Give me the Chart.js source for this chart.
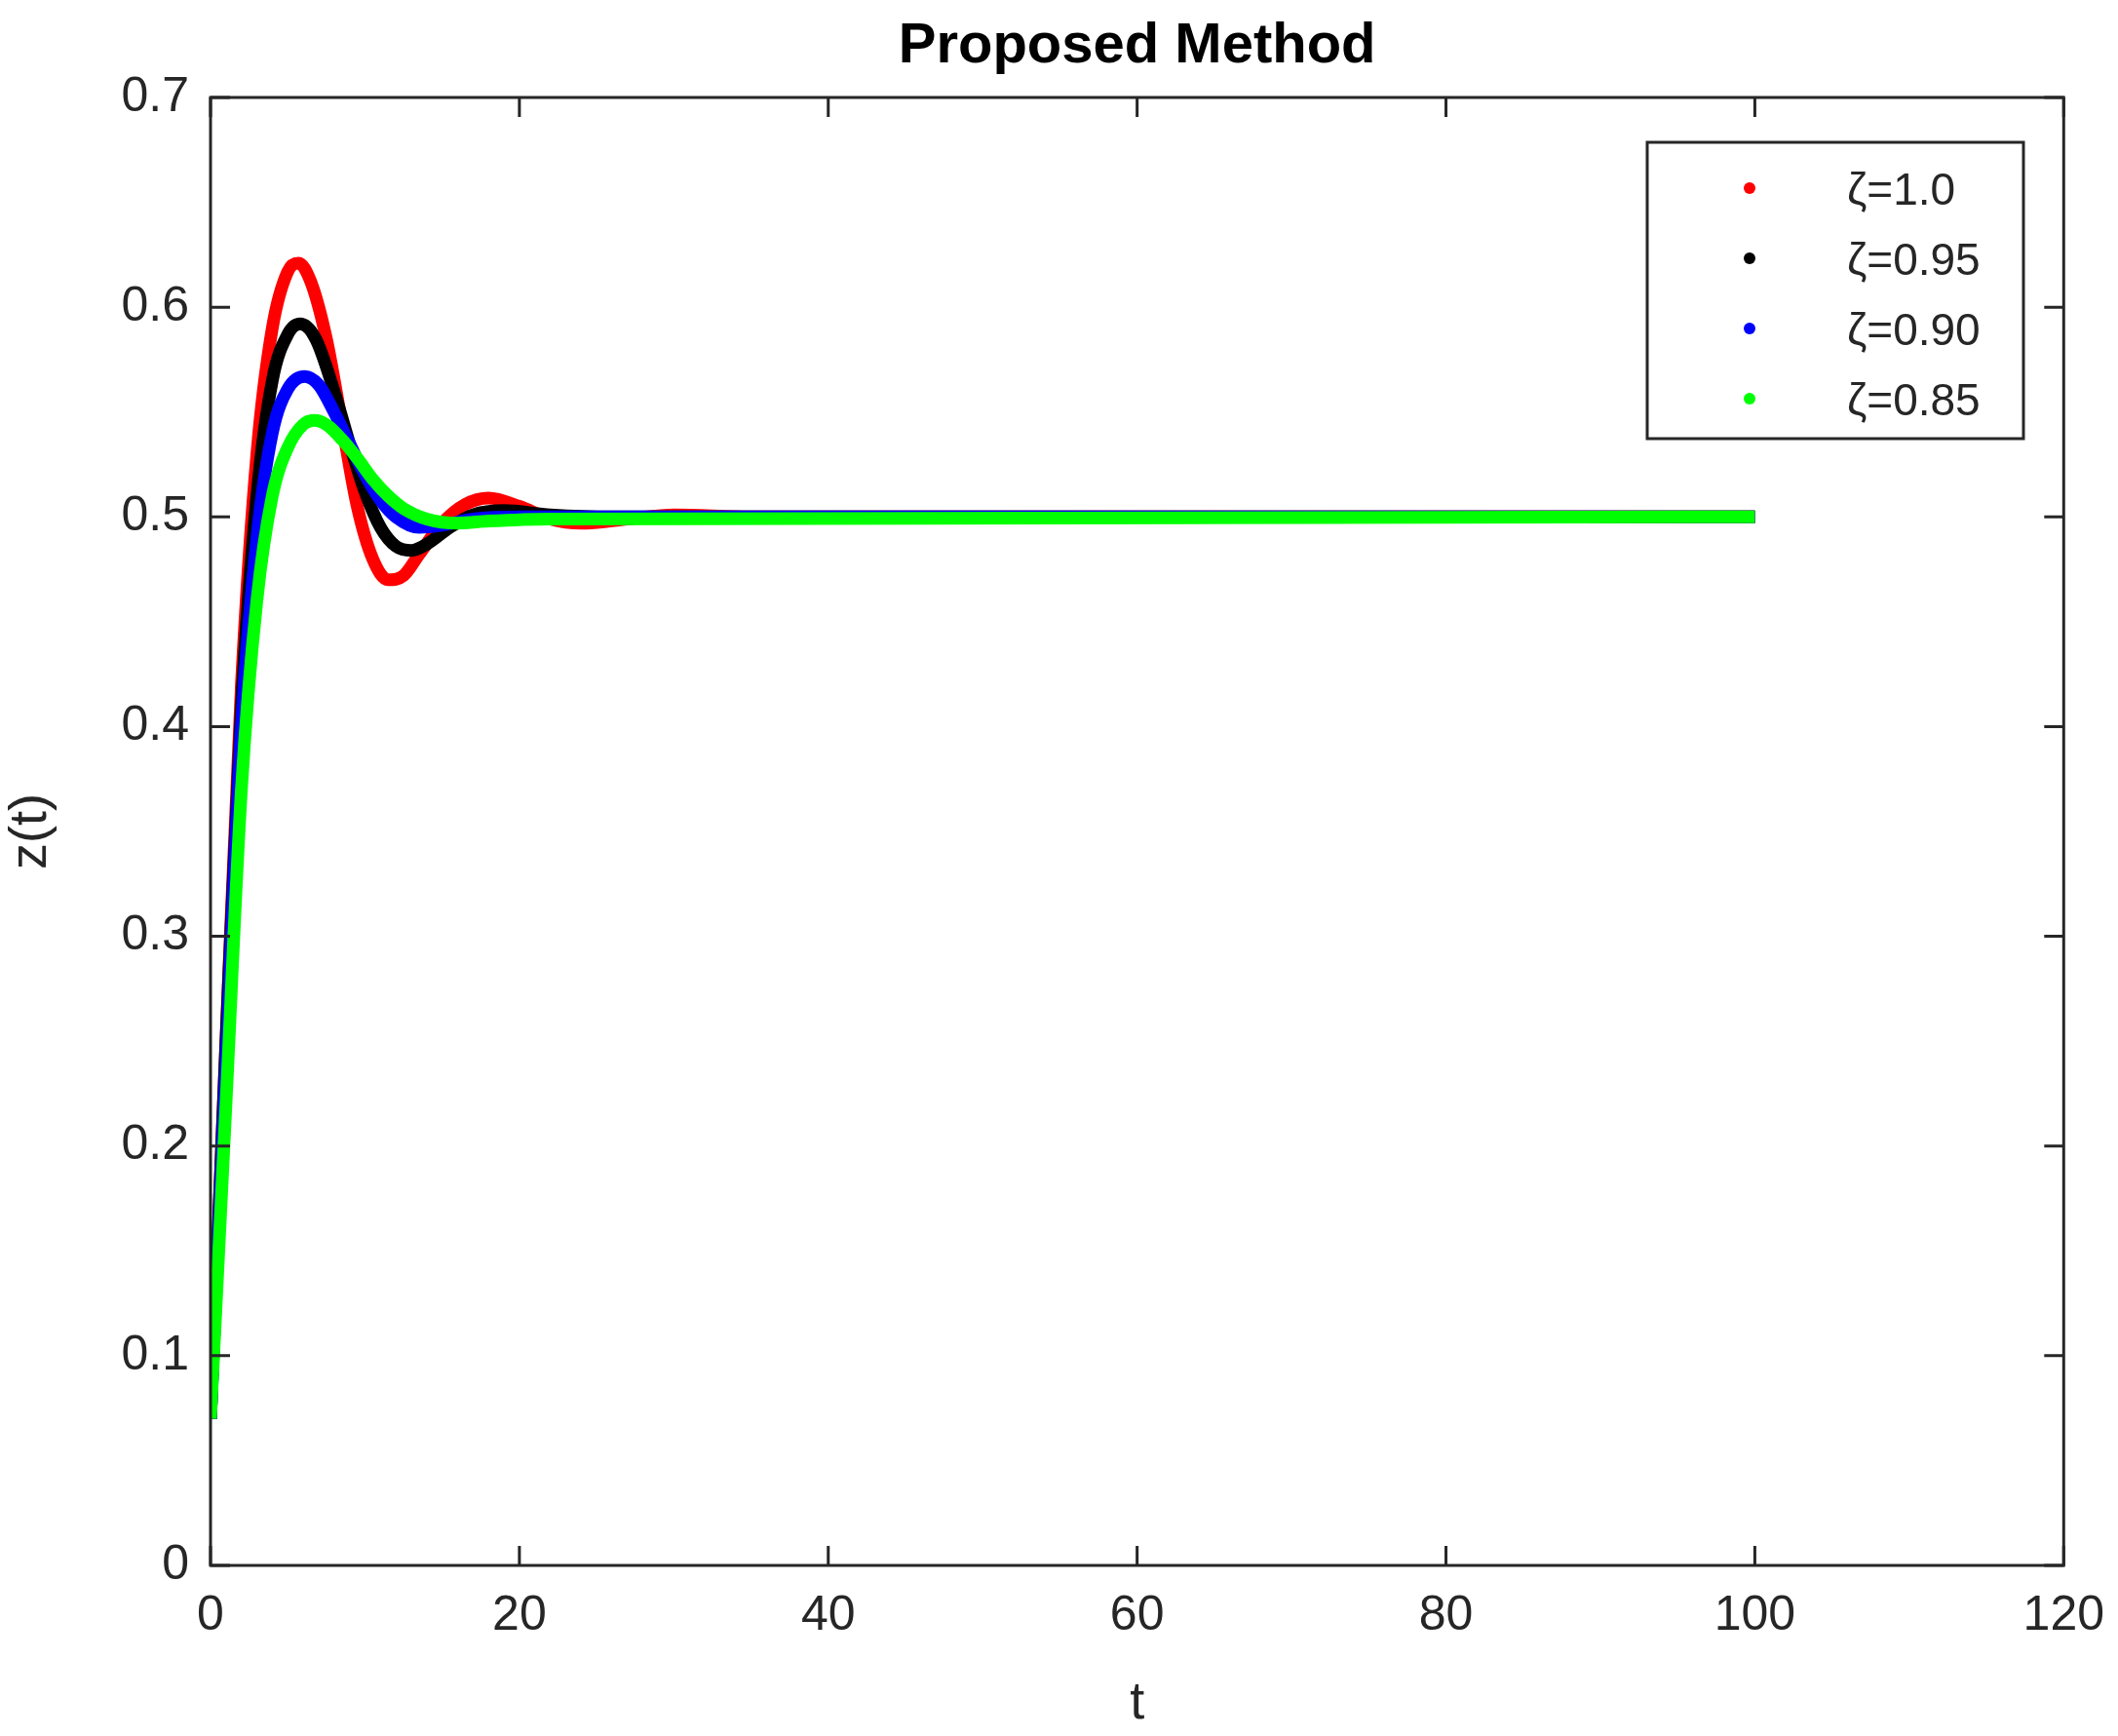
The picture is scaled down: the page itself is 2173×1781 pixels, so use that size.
<!DOCTYPE html>
<html>
<head>
<meta charset="utf-8">
<script src="https://cdn.jsdelivr.net/npm/chart.js@4"></script>
<style>
  html, body { margin: 0; padding: 0; background: #fff; }
  #wrap { width: 2173px; height: 1781px; }
</style>
</head>
<body>
<div id="wrap"><canvas id="myChart" width="2173" height="1781"></canvas></div>
<script>
// values
const labels = ['\u03B6=1.0', '\u03B6=0.95', '\u03B6=0.90', '\u03B6=0.85']
const colors = ['#ff0000', '#000000', '#0000ff', '#00ff00']

const tRed = [0, 1, 2, 3, 4, 5, 5.7, 6.5, 7.5, 8.5, 9.5, 10.5, 11.5, 12.5, 13.5, 15, 16.5, 18, 20, 22, 24, 27, 30, 35, 100]
const zRed = [0.07, 0.25, 0.42, 0.53, 0.59, 0.617, 0.621, 0.612, 0.585, 0.545, 0.505, 0.48, 0.47, 0.472, 0.482, 0.497, 0.506, 0.509, 0.505, 0.499, 0.497, 0.499, 0.501, 0.5, 0.5]

const tBlack = [0, 1, 2, 3, 4, 5, 5.8, 6.8, 8, 9, 10, 11, 12, 13, 14, 15.5, 17, 19, 22, 26, 100]
const zBlack = [0.07, 0.25, 0.41, 0.51, 0.565, 0.587, 0.592, 0.585, 0.56, 0.535, 0.512, 0.495, 0.486, 0.484, 0.487, 0.495, 0.501, 0.503, 0.501, 0.5, 0.5]

const tBlue = [0, 1, 2, 3, 4, 5, 6.1, 7, 8, 9, 10, 11, 12, 13.5, 15, 17, 20, 100]
const zBlue = [0.07, 0.24, 0.4, 0.49, 0.54, 0.561, 0.567, 0.563, 0.55, 0.535, 0.52, 0.508, 0.5, 0.495, 0.496, 0.499, 0.5, 0.5]

const tGreen = [0, 1, 2, 3, 4, 5, 6, 6.7, 7.5, 8.5, 9.5, 10.5, 11.5, 12.5, 14, 16, 18, 22, 100]
const zGreen = [0.07, 0.22, 0.37, 0.46, 0.51, 0.533, 0.544, 0.546, 0.544, 0.537, 0.528, 0.518, 0.51, 0.504, 0.499, 0.497, 0.498, 0.499, 0.5]

const xTicks = [0, 20, 40, 60, 80, 100, 120]
const yTicks = [0, 0.1, 0.2, 0.3, 0.4, 0.5, 0.6, 0.7]
const titleText = 'Proposed Method'

const toPoints = (ts, zs) => ts.map((t, i) => ({ x: t, y: zs[i] }))
const series = [toPoints(tRed, zRed), toPoints(tBlack, zBlack), toPoints(tBlue, zBlue), toPoints(tGreen, zGreen)]

const axisColor = '#262626'
const font = '"Liberation Sans", Arial, sans-serif'

// inward tick marks on all four sides, plus the title centred over the plot
const boxTicks = {
    id: 'boxTicks',
    afterDraw(chart) {
        const { ctx, chartArea: a, scales } = chart
        const len = 20
        ctx.save()
        ctx.strokeStyle = axisColor
        ctx.lineWidth = 3
        ctx.beginPath()
        for (const v of xTicks) {
            const px = scales.x.getPixelForValue(v)
            ctx.moveTo(px, a.bottom); ctx.lineTo(px, a.bottom - len)
            ctx.moveTo(px, a.top); ctx.lineTo(px, a.top + len)
        }
        for (const v of yTicks) {
            const py = scales.y.getPixelForValue(v)
            ctx.moveTo(a.left, py); ctx.lineTo(a.left + len, py)
            ctx.moveTo(a.right, py); ctx.lineTo(a.right - len, py)
        }
        ctx.stroke()
        ctx.strokeRect(a.left, a.top, a.right - a.left, a.bottom - a.top)
        ctx.fillStyle = '#000'
        ctx.font = 'bold 58px ' + font
        ctx.textAlign = 'center'
        ctx.textBaseline = 'middle'
        ctx.fillText(titleText, (a.left + a.right) / 2, 48)
        ctx.restore()
    }
}

// boxed legend inside the plot at top right
const boxLegend = {
    id: 'boxLegend',
    afterDraw(chart) {
        const ctx = chart.ctx
        ctx.save()
        ctx.fillStyle = '#fff'
        ctx.fillRect(1690, 146, 386, 304)
        ctx.strokeStyle = axisColor
        ctx.lineWidth = 3
        ctx.strokeRect(1690, 146, 386, 304)
        ctx.font = '46px ' + font
        ctx.textBaseline = 'middle'
        chart.data.datasets.forEach((ds, i) => {
            const y = 197 + i * 72
            ctx.fillStyle = ds.borderColor
            ctx.beginPath()
            ctx.arc(1795, y - 4, 6, 0, Math.PI * 2)
            ctx.fill()
            ctx.fillStyle = axisColor
            ctx.fillText(ds.label, 1895, y)
        })
        ctx.restore()
    }
}

let myChart = document.querySelector('#myChart').getContext('2d')
let chart = new Chart(myChart, {
    type: 'line',
    data: {
        datasets: series.map((pts, i) => ({
            label: labels[i],
            data: pts,
            order: 3 - i,
            borderColor: colors[i],
            backgroundColor: colors[i],
            borderWidth: 13,
            pointRadius: 0,
            tension: 0.4,
            cubicInterpolationMode: 'monotone',
            fill: false
        }))
    },
    options: {
        responsive: false,
        animation: false,
        layout: { padding: { top: 100, right: 49, bottom: 0, left: 0 } },
        plugins: {
            legend: { display: false },
            tooltip: { enabled: false },
            title: { display: false }
        },
        scales: {
            x: {
                type: 'linear',
                min: 0, max: 120,
                afterBuildTicks: s => { s.ticks = xTicks.map(v => ({ value: v })) },
                afterFit: s => { s.height = 175 },
                grid: { display: false },
                border: { display: false },
                ticks: { color: axisColor, font: { family: font, size: 50 }, padding: 14 },
                title: { display: true, text: 't', color: axisColor, font: { family: font, size: 54 }, padding: 0 }
            },
            y: {
                type: 'linear',
                min: 0, max: 0.7,
                afterBuildTicks: s => { s.ticks = yTicks.map(v => ({ value: v })) },
                afterFit: s => { s.width = 216 },
                grid: { display: false },
                border: { display: false },
                ticks: { color: axisColor, font: { family: font, size: 50 }, padding: 14,
                    callback: v => v === 0 ? '0' : v.toFixed(1) },
                title: { display: true, text: 'z(t)', color: axisColor, font: { family: font, size: 54 }, padding: { top: 0, bottom: 0 } }
            }
        }
    },
    plugins: [boxTicks, boxLegend]
})
</script>
</body>
</html>
